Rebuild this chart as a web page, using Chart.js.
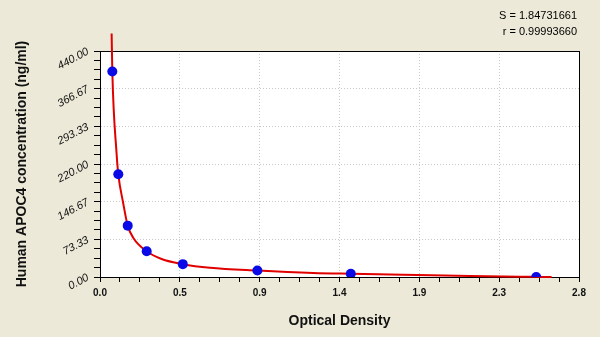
<!DOCTYPE html>
<html>
<head>
<meta charset="utf-8">
<script src="https://cdn.jsdelivr.net/npm/chart.js@4/dist/chart.umd.min.js"></script>
<style>
  html, body { margin: 0; padding: 0; background: #ece9d8; }
  #wrap { width: 600px; height: 337px; position: relative; }
</style>
</head>
<body>
<div id="wrap"><canvas id="std-curve"></canvas></div>
<script>
// standards (blue dots)
const standardOD = [0.072, 0.107, 0.162, 0.273, 0.484, 0.92, 1.466, 2.55];
const standardConc = [400, 200, 100, 50, 25, 12.5, 6.25, 0];

// fitted curve
const fitOD = [0.068, 0.072, 0.097, 0.107, 0.135, 0.162, 0.195, 0.273, 0.36, 0.484, 0.643, 0.92, 1.247, 1.466, 1.77, 2.163, 2.55, 2.64];
const fitConc = [474, 400, 240, 200, 145, 100, 76, 50, 35, 25, 18, 12.5, 7.8, 6.25, 4.5, 1.8, 0.3, 0];

const xTickLabels = ["0.0", "0.5", "0.9", "1.4", "1.9", "2.3", "2.8"];
const yTickLabels = ["0.00", "73.33", "146.67", "220.00", "293.33", "366.67", "440.00"];
const statLines = ["S = 1.84731661", "r = 0.99993660"];

const xMax = 2.8;
const yMax = 440;
const minorPerMajor = 4;

function tickValues(max, majors) {
  const out = [];
  const n = majors * minorPerMajor;
  for (let i = 0; i <= n; i++) out.push({ value: (max * i) / n });
  return out;
}

const fontFamily = "'Liberation Sans', Arial, sans-serif";

const plotFrame = {
  id: "plotFrame",
  beforeDraw(chart) {
    const { ctx, chartArea: a } = chart;
    ctx.save();
    ctx.fillStyle = "#ffffff";
    ctx.fillRect(a.left, a.top, a.right - a.left, a.bottom - a.top);
    ctx.restore();
  },
  beforeDatasetsDraw(chart) {
    const { ctx, chartArea: a } = chart;
    ctx.save();
    ctx.strokeStyle = "#000";
    ctx.lineWidth = 1;
    ctx.strokeRect(a.left + 0.5, a.top + 0.5, a.right - a.left, a.bottom - a.top);
    ctx.restore();
  },
  afterDraw(chart) {
    const ctx = chart.ctx;
    ctx.save();
    ctx.fillStyle = "#000";
    ctx.font = "11px " + fontFamily;
    ctx.textAlign = "right";
    ctx.textBaseline = "middle";
    statLines.forEach((t, i) => ctx.fillText(t, 577, 16 + i * 16));
    ctx.restore();
  },
};

const gridMajor = (c) => (c.index % minorPerMajor === 0 ? "#c8c8c8" : "rgba(0,0,0,0)");

new Chart(document.getElementById("std-curve"), {
  type: "scatter",
  data: {
    datasets: [
      {
        label: "Standards",
        data: standardOD.map((x, i) => ({ x: x, y: standardConc[i] })),
        pointRadius: 5,
        pointHoverRadius: 5,
        pointBackgroundColor: "#0a0ae6",
        pointBorderColor: "#0a0ae6",
        pointBorderWidth: 0,
        order: 0,
      },
      {
        type: "line",
        label: "Fit",
        data: fitOD.map((x, i) => ({ x: x, y: fitConc[i] })),
        borderColor: "#e00000",
        borderWidth: 2,
        pointRadius: 0,
        fill: false,
        cubicInterpolationMode: "monotone",
        clip: false,
        order: 1,
      },
    ],
  },
  options: {
    responsive: true,
    maintainAspectRatio: false,
    animation: false,
    layout: {
      padding: { left: 0, top: 51, right: 21, bottom: 0 },
    },
    plugins: {
      legend: { display: false },
      tooltip: { enabled: false },
    },
    scales: {
      x: {
        type: "linear",
        min: 0,
        max: xMax,
        afterBuildTicks: (s) => {
          s.ticks = tickValues(xMax, xTickLabels.length - 1);
        },
        afterFit: (s) => {
          s.height = 60;
        },
        grid: {
          color: gridMajor,
          tickColor: "#000",
          tickLength: 5,
          lineWidth: 1,
        },
        border: { display: true, color: "#000", dash: [1, 2] },
        ticks: {
          autoSkip: false,
          maxRotation: 0,
          padding: 5,
          color: "#111",
          font: { size: 10, weight: "bold", family: fontFamily },
          callback: (v, i) => (i % minorPerMajor === 0 ? xTickLabels[i / minorPerMajor] : ""),
        },
        title: {
          display: true,
          text: "Optical Density",
          color: "#111",
          padding: { top: 4, bottom: 7 },
          font: { size: 14, weight: "bold", family: fontFamily },
        },
      },
      y: {
        type: "linear",
        min: 0,
        max: yMax,
        afterBuildTicks: (s) => {
          s.ticks = tickValues(yMax, yTickLabels.length - 1);
        },
        afterFit: (s) => {
          s.width = 100;
        },
        grid: {
          color: gridMajor,
          tickColor: "#000",
          tickLength: 6,
          lineWidth: 1,
        },
        border: { display: true, color: "#000", dash: [1, 2] },
        ticks: {
          autoSkip: false,
          minRotation: 28,
          maxRotation: 28,
          padding: 6,
          color: "#111",
          font: { size: 11, style: "italic", family: fontFamily },
          callback: (v, i) => (i % minorPerMajor === 0 ? yTickLabels[i / minorPerMajor] : ""),
        },
        title: {
          display: true,
          text: "Human APOC4 concentration (ng/ml)",
          color: "#111",
          padding: { top: 14, bottom: 4 },
          font: { size: 14, weight: "bold", family: fontFamily },
        },
      },
    },
  },
  plugins: [plotFrame],
});
</script>
</body>
</html>
